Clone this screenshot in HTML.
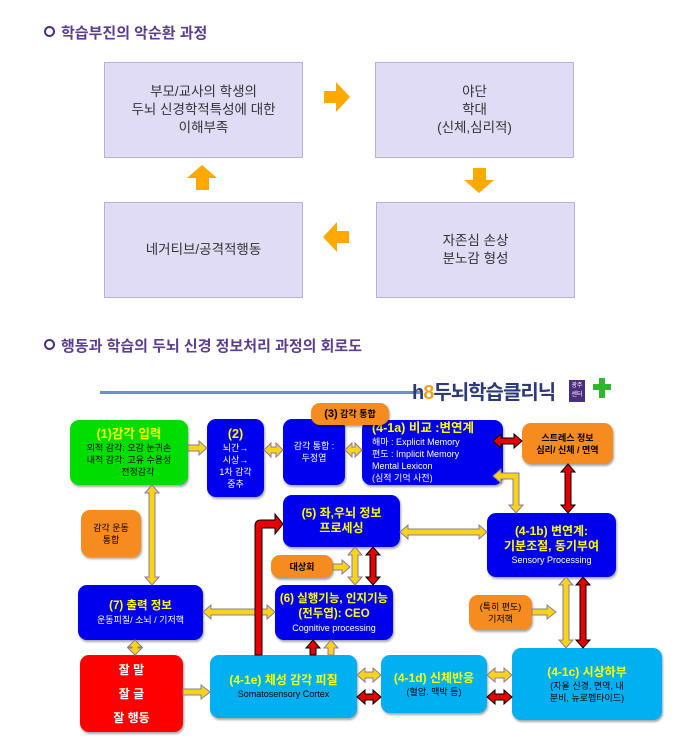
<!DOCTYPE html>
<html><head><meta charset="utf-8">
<style>
body{margin:0;width:690px;height:748px;background:#fff;position:relative;overflow:hidden;font-family:"Liberation Sans","Noto Sans CJK KR",sans-serif;}
.a{position:absolute;box-sizing:border-box;}
.h{position:absolute;left:44px;font-size:15px;font-weight:bold;color:#5b3e8e;}
.h .d{display:inline-block;width:7px;height:7px;border:2.5px solid #4b2e7e;border-radius:50%;margin-right:6px;vertical-align:1px}
.p{position:absolute;background:#e0dcf6;border:1px solid #b7aee2;display:flex;align-items:center;justify-content:center;text-align:center;font-size:13.5px;line-height:18px;color:#333;}
.b{position:absolute;border-radius:9px;display:flex;flex-direction:column;align-items:center;justify-content:center;text-align:center;color:#fff;box-shadow:1px 2px 2px rgba(0,0,0,.35);font-size:9px;line-height:12px;}
.bl{background:#0000ee;}
.lb{background:#00b0f0;color:#000;}
.or{background:#f68b1f;color:#000;}
.y{color:#ffff00;font-weight:bold;font-size:12.5px;line-height:15px;}
svg{position:absolute;left:0;top:0;}
.yl{fill:#f7d417;stroke:#8a7aa0;stroke-width:1;}
.rd{fill:#e60000;stroke:#000;stroke-width:1;}
</style></head><body>
<div class="h" style="top:22px"><span class="d"></span>학습부진의 악순환 과정</div>
<div class="p" style="left:104px;top:62px;width:197px;height:94px">부모/교사의 학생의<br>두뇌 신경학적특성에 대한<br>이해부족</div>
<div class="p" style="left:375px;top:62px;width:197px;height:94px">야단<br>학대<br>(신체,심리적)</div>
<div class="p" style="left:376px;top:202px;width:197px;height:94px">자존심 손상<br>분노감 형성</div>
<div class="p" style="left:104px;top:202px;width:197px;height:94px">네거티브/공격적행동</div>
<svg width="690" height="748" style="z-index:0">
<polygon fill="#ffa800" points="324,91 336,91 336,82 350,97 336,112 336,103 324,103"/>
<polygon fill="#ffa800" points="473,168 486,168 486,180 494,180 479,193 464,180 473,180"/>
<polygon fill="#ffa800" points="349,231 337,231 337,222 323,237 337,252 337,243 349,243"/>
<polygon fill="#ffa800" points="196,190 209,190 209,178 217,178 202,165 187,178 196,178"/>
</svg>
<div class="h" style="top:335px"><span class="d"></span>행동과 학습의 두뇌 신경 정보처리 과정의 회로도</div>

<div class="a" style="left:100px;top:391px;width:320px;height:3px;background:#6f8fc8"></div>
<div class="a" style="left:412px;top:376px;font-size:20px;font-weight:bold;color:#2e3a78;letter-spacing:-1px">h<span style="color:#f0a020">8</span>두뇌학습클리닉</div>
<div class="a" style="left:569px;top:380px;width:16px;height:22px;background:#4b2e7e;color:#fff;font-size:6px;line-height:9px;text-align:center;padding-top:2px">광주<br>센터</div>
<div class="a" style="left:593px;top:384px;width:18px;height:6px;background:#2fb52f"></div>
<div class="a" style="left:599px;top:378px;width:6px;height:20px;background:#2fb52f"></div>

<div class="b" style="left:70px;top:420px;width:118px;height:65px;background:#00dd00;color:#000"><span class="y">(1)감각 입력</span>외적 감각: 오감 눈귀손<br>내적 감각: 고유 수용성<br>&nbsp;&nbsp;&nbsp;&nbsp;&nbsp;&nbsp;&nbsp;전정감각</div>
<div class="b bl" style="left:207px;top:419px;width:57px;height:78px"><span class="y">(2)</span>뇌간→<br>시상→<br>1차 감각<br>중추</div>
<div class="b bl" style="left:283px;top:419px;width:62px;height:66px">감각 통합 :<br>두정엽</div>
<div class="b or" style="left:311px;top:403px;width:78px;height:22px;font-size:9px;font-weight:bold;z-index:2"><span><b style="font-size:11px">(3)</b> 감각 통합</span></div>
<div class="b bl" style="left:362px;top:420px;width:131px;height:65px;align-items:flex-start;padding-left:10px;text-align:left"><span class="y">(4-1a) 비교 :변연계</span>해마 : Explicit Memory<br>편도 : Implicit Memory<br>Mental Lexicon<br>(심적 기억 사전)</div>
<div class="b or" style="left:522px;top:423px;width:91px;height:41px;font-weight:bold">스트레스 정보<br>심리/ 신체 / 면역</div>
<div class="b bl" style="left:283px;top:495px;width:117px;height:52px"><span class="y" style="font-size:12px">(5) 좌,우뇌 정보<br>프로세싱</span></div>
<div class="b bl" style="left:487px;top:513px;width:129px;height:64px"><span class="y" style="font-size:12px">(4-1b) 변연계:<br>기분조절, 동기부여</span>Sensory Processing</div>
<div class="b or" style="left:81px;top:510px;width:60px;height:47px">감각 운동<br>통합</div>
<div class="b or" style="left:271px;top:555px;width:62px;height:23px;font-weight:bold">대상회</div>
<div class="b bl" style="left:78px;top:585px;width:125px;height:55px"><span class="y" style="font-size:11.5px">(7) 출력 정보</span>운동피질/ 소뇌 / 기저핵</div>
<div class="b bl" style="left:275px;top:585px;width:118px;height:55px"><span class="y" style="font-size:11.5px">(6) 실행기능, 인지기능<br>(전두엽): CEO</span>Cognitive processing</div>
<div class="b or" style="left:469px;top:595px;width:63px;height:35px">(특히 편도)<br>기저핵</div>
<div class="b" style="left:80px;top:655px;width:103px;height:77px;background:#ff0000;font-size:12px;line-height:24px;font-weight:bold">잘 말<br>잘 글<br>잘 행동</div>
<div class="b lb" style="left:210px;top:655px;width:147px;height:63px"><span class="y" style="font-size:12px">(4-1e) 체성 감각 피질</span>Somatosensory Cortex</div>
<div class="b lb" style="left:381px;top:655px;width:106px;height:58px"><span class="y" style="font-size:12px">(4-1d) 신체반응</span>(혈압. 맥박 등)</div>
<div class="b lb" style="left:512px;top:648px;width:150px;height:72px"><span class="y" style="font-size:12px">(4-1c) 시상하부</span>(자율 신경, 면역, 내<br>분비, 뉴로펩타이드)</div>

<svg width="690" height="748" style="z-index:3">
<polygon class="yl" points="188,445 199,445 199,441 207,448 199,455 199,451 188,451"/>
<polygon class="yl" points="264,450 271,443 271,447 276,447 276,443 283,450 276,457 276,453 271,453 271,457"/>
<polygon class="yl" points="345,450 352,443 352,447 355,447 355,443 362,450 355,457 355,453 352,453 352,457"/>
<polygon class="yl" points="152,485 159,493 155,493 155,577 159,577 152,585 145,577 149,577 149,493 145,493"/>
<polygon class="rd" points="493,441 501,434 501,438 514,438 514,434 522,441 514,448 514,444 501,444 501,448"/>
<polygon class="rd" points="568,464 575,472 571,472 571,505 575,505 568,513 561,505 565,505 565,472 561,472"/>
<polygon class="yl" points="493,476 501,469 501,473 519,473 519,505 523,505 516,513 509,505 513,505 513,479 501,479 501,483"/>
<polygon class="yl" points="400,532 408,525 408,529 479,529 479,525 487,532 479,539 479,535 408,535 408,539"/>
<polygon class="yl" points="355,547 362,555 358,555 358,577 362,577 355,585 348,577 352,577 352,555 348,555"/>
<polygon class="rd" points="373,547 380,555 376,555 376,577 380,577 373,585 366,577 370,577 370,555 366,555"/>
<polygon class="yl" points="333,564 342,564 342,560 350,567 342,574 342,570 333,570"/>
<polygon class="yl" points="566,577 573,585 569,585 569,640 573,640 566,648 559,640 563,640 563,585 559,585"/>
<polygon class="rd" points="583,577 590,585 586,585 586,640 590,640 583,648 576,640 580,640 580,585 576,585"/>
<polygon class="yl" points="532,609 547,609 547,605 556,612 547,619 547,615 532,615"/>
<polygon class="yl" points="203,612 211,605 211,609 267,609 267,605 275,612 267,619 267,615 211,615 211,619"/>
<polygon class="yl" points="135,640 142,647 138,647 138,648 142,648 135,655 128,648 132,648 132,647 128,647"/>
<polygon class="yl" points="183,689 201,689 201,685 210,692 201,699 201,695 183,695"/>
<polygon class="rd" points="313,640 320,648 316,648 316,655 310,655 310,648 306,648"/>
<polygon class="yl" points="331,640 338,648 334,648 334,655 328,655 328,648 324,648"/>
<polygon class="yl" points="357,675 365,668 365,672 373,672 373,668 381,675 373,682 373,678 365,678 365,682"/>
<polygon class="rd" points="357,697 365,690 365,694 373,694 373,690 381,697 373,704 373,700 365,700 365,704"/>
<polygon class="yl" points="487,675 495,668 495,672 504,672 504,668 512,675 504,682 504,678 495,678 495,682"/>
<polygon class="rd" points="487,697 495,690 495,694 504,694 504,690 512,697 504,704 504,700 495,700 495,704"/>
<path class="rd" d="M255,655 L255,526 Q255,520 261,520 L275,520 L275,514 L283,524 L275,534 L275,528 L262,528 L262,655 Z"/>
</svg>
</body></html>
